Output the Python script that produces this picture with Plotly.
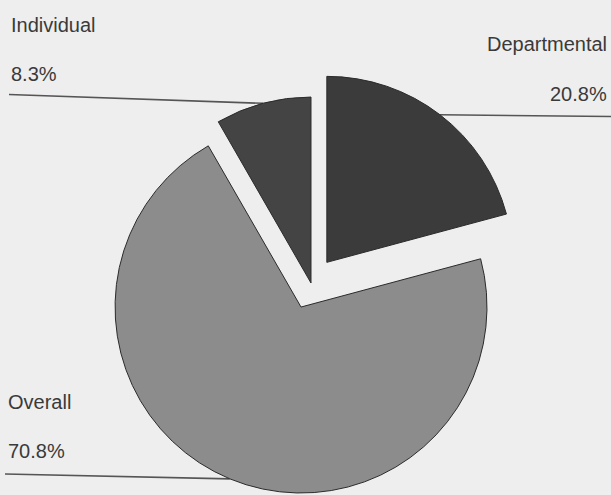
import math
import plotly.graph_objects as go

# Share of total by level
labels = ["Departmental", "Overall", "Individual"]
values = [20.8, 70.8, 8.3]
value_text = ["20.8%", "70.8%", "8.3%"]

pulls = [0.14, 0.14, 0.0]
colors = ["#3b3b3b", "#8c8c8c", "#444444"]

W, H = 611, 495
dom_x = [0.15, 0.868]
dom_y = [0.0, 0.8566]

# Pie geometry in pixels (same rules plotly uses to size and place the pie)
box_w = W * (dom_x[1] - dom_x[0])
box_h = H * (dom_y[1] - dom_y[0])
r = min(box_w, box_h) / (2 + 2 * max(pulls))
cx = W * (dom_x[0] + dom_x[1]) / 2
cy = H * (1 - dom_y[0]) - box_h / 2

total = sum(values)
mid_angles = []
acc = 0.0
for v in values:
    mid_angles.append((acc + v / 2) / total * 2 * math.pi)
    acc += v


def arc_mid(i):
    """Pixel position of the middle of slice i's outer arc (clockwise from 12 o'clock)."""
    a = mid_angles[i]
    d = r * (1 + pulls[i])
    return cx + d * math.sin(a), cy - d * math.cos(a)


def px(x, y):
    return x / W, 1 - y / H


fig = go.Figure(
    go.Pie(
        labels=labels,
        values=values,
        sort=False,
        direction="clockwise",
        rotation=0,
        pull=pulls,
        marker=dict(colors=colors, line=dict(color="#2b2b2b", width=1)),
        textinfo="none",
        hoverinfo="none",
        showlegend=False,
        domain=dict(x=dom_x, y=dom_y),
    )
)

# Labels: (name y, value y, x, anchor) in pixels
label_pos = {
    "Departmental": (44, 94, 609, "right"),
    "Overall": (402, 451, 6, "left"),
    "Individual": (25, 74, 9, "left"),
}
font = dict(family="Liberation Sans, Arial, sans-serif", size=20, color="#3a3a3a")
annotations = []
for i, name in enumerate(labels):
    y1, y2, x, anchor = label_pos[name]
    for txt, yy in ((name, y1), (value_text[i], y2)):
        xp, yp = px(x, yy)
        annotations.append(dict(
            text=txt, x=xp, y=yp, xref="paper", yref="paper",
            xanchor=anchor, yanchor="middle", showarrow=False, font=font,
        ))

# Leader lines from each label to the middle of its slice's arc
line_ends = {
    "Individual": (9, 94.5),
    "Departmental": (611, 116.5),
    "Overall": (5, 474),
}
shapes = []
for i, name in enumerate(labels):
    x0, y0 = line_ends[name]
    x1, y1 = arc_mid(i)
    a0 = px(x0, y0)
    a1 = px(x1, y1)
    shapes.append(dict(
        type="line", xref="paper", yref="paper",
        x0=a0[0], y0=a0[1], x1=a1[0], y1=a1[1],
        line=dict(color="#555555", width=1.6), layer="below",
    ))

fig.update_layout(
    width=W, height=H,
    margin=dict(l=0, r=0, t=0, b=0),
    paper_bgcolor="#eeeeee",
    plot_bgcolor="#eeeeee",
    annotations=annotations,
    shapes=shapes,
)

fig.write_html("out.html")
